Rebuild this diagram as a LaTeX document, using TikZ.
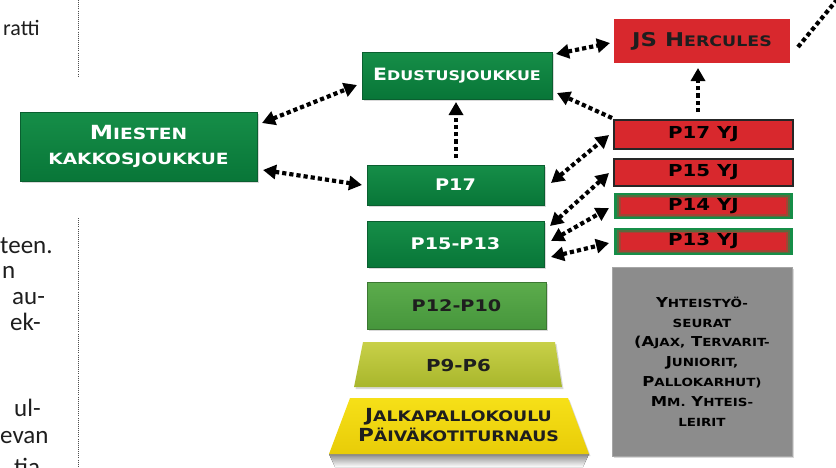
\documentclass[tikz,border=0pt]{standalone}
\usepackage{fontspec}
\setmainfont{Carlito}
\newfontfamily\cop{DejaVu Sans}[FakeStretch=1.2]
\usetikzlibrary{arrows.meta,calc,shadows}
\definecolor{gTop}{RGB}{22,142,72}
\definecolor{gBot}{RGB}{8,118,56}
\definecolor{gEdge}{RGB}{10,95,48}
\definecolor{lgTop}{RGB}{92,172,76}
\definecolor{lgBot}{RGB}{70,150,60}
\definecolor{olTop}{RGB}{200,208,72}
\definecolor{olBot}{RGB}{168,182,44}
\definecolor{yeTop}{RGB}{246,224,24}
\definecolor{yeBot}{RGB}{232,204,8}
\definecolor{jsred}{RGB}{216,40,45}
\definecolor{boxgray}{RGB}{140,140,140}
\definecolor{txt}{RGB}{30,30,30}
\newcommand\sm[1]{{\fontsize{\smsz}{\smsz}\selectfont #1}}
\tikzset{
  base/.style={inner sep=0pt, outer sep=0pt, align=center},
  shad/.style={drop shadow={opacity=0.3,shadow xshift=1.5pt,shadow yshift=-2pt}},
  gbox/.style={base, shad, draw=gEdge, line width=0.8pt, top color=gTop, bottom color=gBot, text=white},
  lgbox/.style={base, shad, draw={rgb,255:red,60;green,120;blue,50}, line width=0.8pt, top color=lgTop, bottom color=lgBot, text=txt},
  redbox/.style={base, fill=jsred, text=txt},
  yjred/.style={base, fill=jsred, draw=black!85, line width=1.3pt, text=black},
  yjmix/.style={base, fill=gTop, text=black, path picture={
      \fill[jsred, opacity=0.35] ([shift={(3pt,-2pt)}]path picture bounding box.north west) rectangle ([shift={(-3pt,2pt)}]path picture bounding box.south east);
      \fill[jsred, opacity=0.6] ([shift={(5pt,-3.5pt)}]path picture bounding box.north west) rectangle ([shift={(-5pt,3.5pt)}]path picture bounding box.south east);
      \fill[jsred] ([shift={(7pt,-5pt)}]path picture bounding box.north west) rectangle ([shift={(-7pt,5pt)}]path picture bounding box.south east);
  }},
  graybox/.style={base, shad, fill=boxgray, draw=black!35, line width=0.5pt, text=black},
  copf/.style={font=\cop\bfseries\fontsize{#1}{#1}\selectfont},
  arr/.style={line width=4.2pt, dash pattern=on 4.2pt off 3pt,
    {Triangle[length=13pt,width=14pt]}-{Triangle[length=13pt,width=14pt]}},
  arrone/.style={line width=4.2pt, dash pattern=on 4.2pt off 3pt,
    -{Triangle[length=13pt,width=14pt]}},
  dotline/.style={line width=4.2pt, dash pattern=on 4.2pt off 3pt},
  sep/.style={black!70, line width=0.7pt, dash pattern=on 0.8pt off 1.3pt},
  side/.style={anchor=base west, text=txt, font=\fontsize{25}{25}\selectfont, inner sep=0pt},
}
\begin{document}
\begin{tikzpicture}[x=1pt,y=-1pt]
\useasboundingbox (0,0) rectangle (836,467);
% left column text fragments
\node[side, font=\fontsize{22}{22}\selectfont] (t1) at (3,35) {ratti};
\node[side] (t2) at (0,253) {teen.};
\node[side] (t3) at (2,278) {n};
\node[side] (t4) at (12,304) {au-};
\node[side] (t5) at (10,330) {ek-};
\node[side] (t6) at (14,416) {ul-};
\node[side] (t7) at (0,443) {evan};
\node[side] (t8) at (14,475) {tia};
\draw[sep] (78,0) -- (78,76);
\draw[sep] (78,218) -- (78,467);

% boxes
\node[gbox, minimum width=237pt, minimum height=69pt,
  font=\cop\bfseries\fontsize{19.5}{25}\selectfont\def\smsz{15.5}] (mk) at (138.5,146.5)
  {M\sm{IESTEN}\\ \sm{KAKKOSJOUKKUE}};
\node[gbox, minimum width=190pt, minimum height=47pt,
  font=\cop\bfseries\fontsize{17}{18}\selectfont\def\smsz{13.3}] (ed) at (457,75.5)
  {E\sm{DUSTUSJOUKKUE}};
\node[redbox, minimum width=176pt, minimum height=44pt,
  font=\cop\bfseries\fontsize{19}{20}\selectfont\def\smsz{14.5}] (js) at (702,41)
  {JS H\sm{ERCULES}};
\node[yjred, minimum width=179pt, minimum height=29pt, copf=16.5] (y17) at (703.5,134.5) {P17 YJ};
\node[yjred, minimum width=179pt, minimum height=27pt, copf=16.5] (y15) at (703.5,172.5) {P15 YJ};
\node[yjmix, minimum width=179pt, minimum height=26pt, copf=16.5] (y14) at (703.5,206) {P14 YJ};
\node[yjmix, minimum width=179pt, minimum height=27pt, copf=16.5] (y13) at (703.5,241.5) {P13 YJ};
\node[graybox, minimum width=180pt, minimum height=189pt,
  font=\cop\bfseries\fontsize{13.7}{19.8}\selectfont\def\smsz{11.2}] (yh) at (702,361.5)
  {Y\sm{HTEISTYÖ-}\\ \sm{SEURAT}\\ (A\sm{JAX,} T\sm{ERVARIT-}\\ J\sm{UNIORIT,}\\ P\sm{ALLOKARHUT)}\\ M\sm{M.} Y\sm{HTEIS-}\\ \sm{LEIRIT}};
\node[gbox, minimum width=177pt, minimum height=40pt, copf=16] (p17) at (455.5,185) {P17};
\node[gbox, minimum width=177pt, minimum height=46pt, copf=16] (p15) at (455.5,244) {P15-P13};
\node[lgbox, minimum width=179pt, minimum height=47pt, copf=16] (p12) at (456.5,305.5) {P12-P10};

% trapezoids
\fill[top color=black!45, bottom color=white] (329,454) -- (589,454) -- (583,467) -- (335,467) -- cycle;
\path[top color=olTop, bottom color=olBot, shad] (363,342) -- (555,342) -- (562,387) -- (354,387) -- cycle;
\node[base, copf=16.5, text=txt] (p9) at (458.5,365) {P9-P6};
\path[top color=yeTop, bottom color=yeBot, shad] (350,398) -- (568,398) -- (589,454) -- (329,454) -- cycle;
\node[base, text=txt, font=\cop\bfseries\fontsize{18}{20.5}\selectfont\def\smsz{14.5}] (jk) at (458.5,425)
  {J\sm{ALKAPALLOKOULU}\\ P\sm{ÄIVÄKOTITURNAUS}};

% connectors
\draw[arr] ($(mk.north east)+(5,11)$) -- ($(ed.west)+(-5,9.5)$);
\draw[arr] ($(mk.south east)+(6,-11)$) -- ($(p17.west)+(-5,0)$);
\draw[arrone] ($(p17.north)+(0.5,-7)$) -- ($(ed.south)+(-1,3)$);
\draw[arr] ($(ed.north east)+(4,2)$) -- ($(js.west)+(-4,2)$);
\draw[arrone] ($(y17.north west)+(-2,-2)$) -- ($(ed.south east)+(5,-6)$);
\draw[arrone] ($(y17.north)+(-5.5,-8)$) -- ($(js.south)+(-4,5)$);
\draw[arr] ($(p17.east)+(7,-2)$) -- ($(y17.west)+(-5,0.5)$);
\draw[arr] ($(p15.north east)+(6,5)$) -- ($(y15.west)+(-5,0.5)$);
\draw[arr] ($(p15.east)+(7,-3)$) -- ($(y14.west)+(-5,2)$);
\draw[arr] ($(p15.east)+(7,13)$) -- ($(y13.west)+(-5,1.5)$);
\coordinate (off) at (840,-4);
\draw[dotline] ($(js.east)+(8,6)$) -- (off);
\end{tikzpicture}
\end{document}
